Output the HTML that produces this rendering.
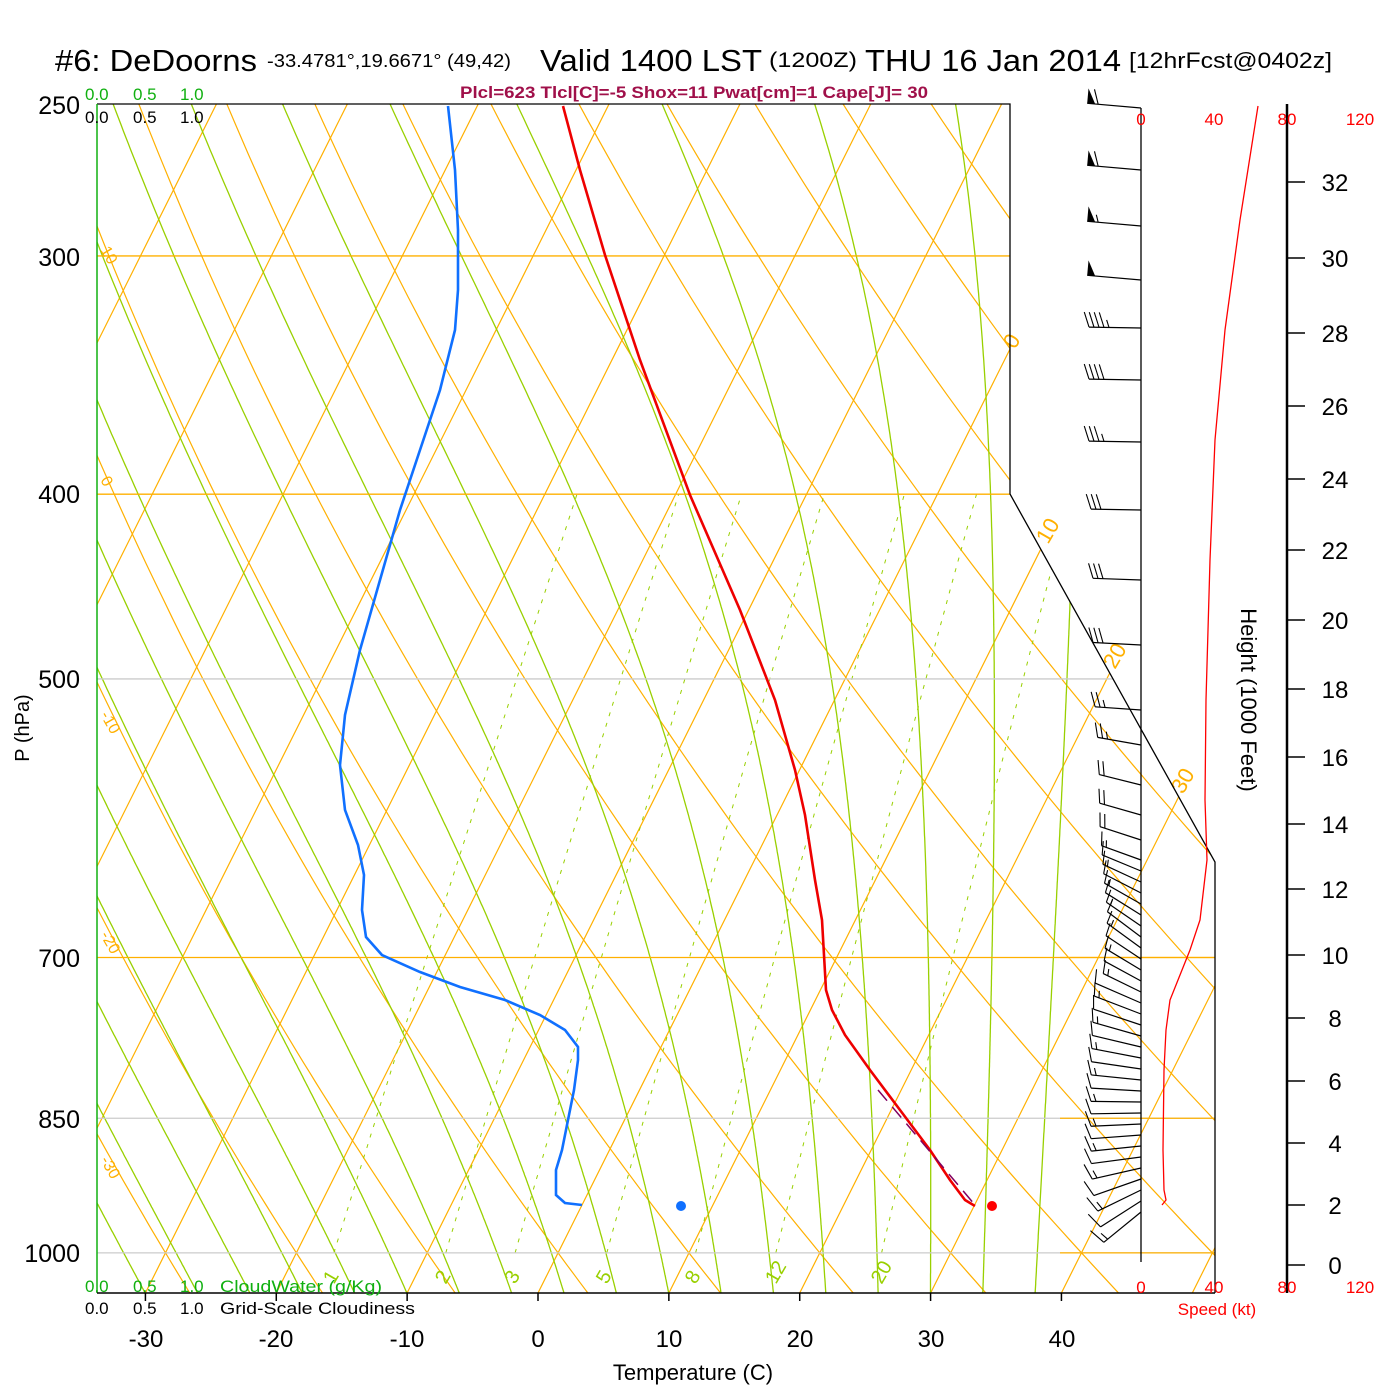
<!DOCTYPE html>
<html><head><meta charset="utf-8"><style>
html,body{margin:0;padding:0;background:#fff}
svg{display:block;font-family:"Liberation Sans",sans-serif}
</style></head><body>
<svg id="s" width="1400" height="1400" viewBox="0 0 1400 1400" xmlns="http://www.w3.org/2000/svg">
<defs><clipPath id="c"><polygon points="97,104 1010,104 1010,494 1215,862 1215,1293 97,1293"/></clipPath></defs>
<g id="grid" clip-path="url(#c)"></g>
<g id="fg"></g>
<text x="55" y="71" font-size="31" textLength="202" lengthAdjust="spacingAndGlyphs">#6: DeDoorns</text>
<text x="267" y="67" font-size="18" textLength="244" lengthAdjust="spacingAndGlyphs">-33.4781°,19.6671° (49,42)</text>
<text x="540" y="71" font-size="31" textLength="222" lengthAdjust="spacingAndGlyphs">Valid 1400 LST</text>
<text x="769" y="67" font-size="21" textLength="88" lengthAdjust="spacingAndGlyphs">(1200Z)</text>
<text x="865" y="71" font-size="31" textLength="256" lengthAdjust="spacingAndGlyphs">THU 16 Jan 2014</text>
<text x="1129" y="68" font-size="22" textLength="203" lengthAdjust="spacingAndGlyphs">[12hrFcst@0402z]</text>
<text x="460" y="98" font-size="17" font-weight="bold" fill="#a0104a" textLength="468" lengthAdjust="spacingAndGlyphs">Plcl=623 Tlcl[C]=-5 Shox=11 Pwat[cm]=1 Cape[J]= 30</text>
<g font-size="17" fill="#10b010"><text x="85" y="100">0.0</text><text x="133" y="100">0.5</text><text x="180" y="100">1.0</text></g>
<g font-size="17" fill="#000"><text x="85" y="123">0.0</text><text x="133" y="123">0.5</text><text x="180" y="123">1.0</text></g>
<g font-size="17" fill="#10b010"><text x="85" y="1292">0.0</text><text x="133" y="1292">0.5</text><text x="180" y="1292">1.0</text><text x="220" y="1292" textLength="162" lengthAdjust="spacingAndGlyphs">CloudWater (g/Kg)</text></g>
<g font-size="17" fill="#000"><text x="85" y="1314">0.0</text><text x="133" y="1314">0.5</text><text x="180" y="1314">1.0</text><text x="220" y="1314" textLength="195" lengthAdjust="spacingAndGlyphs">Grid-Scale Cloudiness</text></g>
<g font-size="25" text-anchor="end">
<text x="80" y="114">250</text><text x="80" y="266">300</text><text x="80" y="503">400</text><text x="80" y="688">500</text><text x="80" y="967">700</text><text x="80" y="1128">850</text><text x="80" y="1262">1000</text>
</g>
<text transform="translate(29,728) rotate(-90)" font-size="20" text-anchor="middle">P (hPa)</text>
<g font-size="24" text-anchor="middle">
<text x="146" y="1347">-30</text><text x="276" y="1347">-20</text><text x="407" y="1347">-10</text><text x="538" y="1347">0</text><text x="669" y="1347">10</text><text x="800" y="1347">20</text><text x="931" y="1347">30</text><text x="1062" y="1347">40</text>
</g>
<text x="693" y="1380" font-size="22" text-anchor="middle">Temperature (C)</text>
<text transform="translate(1241,700) rotate(90)" font-size="22" text-anchor="middle">Height (1000 Feet)</text>
<g font-size="17" fill="#f00" text-anchor="middle">
<text x="1141" y="125">0</text><text x="1214" y="125">40</text><text x="1287" y="125">80</text><text x="1360" y="125">120</text>
<text x="1141" y="1293">0</text><text x="1214" y="1293">40</text><text x="1287" y="1293">80</text><text x="1360" y="1293">120</text>
<text x="1217" y="1315">Speed (kt)</text>
</g>
</svg>
<script>
const NS="http://www.w3.org/2000/svg";
const grid=document.getElementById('grid'),fg=document.getElementById('fg');
function el(p,tag,a){const e=document.createElementNS(NS,tag);for(const k in a)e.setAttribute(k,a[k]);p.appendChild(e);return e;}
const Y=p=>105+828*Math.log(p/250);
const X=(T,p)=>538+13.086*T+0.5*(1293-Y(p));
function poly(p,pts,st){el(p,'polyline',Object.assign({points:pts.map(q=>q[0].toFixed(1)+','+q[1].toFixed(1)).join(' '),fill:'none'},st));}
const OR='#ffb000',GR='#99d000';
const PB=1055,PT=245;
for(let T=-110;T<=50;T+=10){poly(grid,[[X(T,PB),Y(PB)],[X(T,PT),Y(PT)]],{stroke:OR,'stroke-width':1.2});}
for(let th=-40;th<=160;th+=10){const pts=[];for(let p=PB;p>=PT;p-=10){const T=(th+273.15)*Math.pow(p/1000,0.2857)-273.15;pts.push([X(T,p),Y(p)]);}poly(grid,pts,{stroke:OR,'stroke-width':1.2});}
function es(T){return 6.112*Math.exp(17.67*T/(T+243.5));}
function rs(T,p){const e=es(T);return 0.622*e/(p-e);}
function dTdp(T,p){const Tk=T+273.15,r=rs(T,p),L=2.5e6,Rd=287,cp=1004;return (Rd*Tk+L*r)/(p*(cp+L*L*r*0.622/(Rd*Tk*Tk)));}
for(let T0=-30;T0<=38;T0+=4){let T=T0,pts=[];for(let p=1050;p>=PT;p-=2){pts.push([X(T,p),Y(p)]);T-=dTdp(T,p)*2;}poly(grid,pts,{stroke:GR,'stroke-width':1.3});}
const mr=[1,2,3,5,8,12,20];
function tdOf(r,p){const e=r*p/(0.622+r);const l=Math.log(e/6.112);return 243.5*l/(17.67-l);}
mr.forEach(m=>{const r=m/1000;const pts=[];for(let p=1000;p>=400;p-=10){let T=tdOf(r,p);pts.push([X(T,p),Y(p)]);}poly(grid,pts,{stroke:GR,'stroke-width':1,'stroke-dasharray':'4,7'});
 const x=X(tdOf(r,1000),1000);el(fg,'text',{x:x,y:1285,'font-size':20,fill:GR,transform:`rotate(-60 ${x} 1285)`}).textContent=m;});
[[300,OR],[400,OR],[500,'#ccc'],[700,OR],[850,'#ccc'],[1000,'#ccc']].forEach(([p,c])=>el(grid,'line',{x1:97,x2:1215,y1:Y(p),y2:Y(p),stroke:c,'stroke-width':1.3}));
[850,1000,700].forEach(p=>el(fg,'line',{x1:1060,x2:1215,y1:Y(p),y2:Y(p),stroke:OR,'stroke-width':1.3}));
[[10,250],[0,480],[-10,715],[-20,935],[-30,1160]].forEach(([t,y])=>el(fg,'text',{x:100,y:y,'font-size':16,fill:OR,transform:`rotate(60 100 ${y})`}).textContent=t);
[[0,1015,350],[10,1048,545],[20,1115,670],[30,1183,795]].forEach(([t,x,y])=>el(fg,'text',{x:x,y:y,'font-size':22,fill:OR,transform:`rotate(-60 ${x} ${y})`}).textContent=t);
el(fg,'polyline',{points:'97,104 1010,104 1010,494 1215,862 1215,1293',fill:'none',stroke:'#000','stroke-width':1.3});
el(fg,'line',{x1:97,y1:104,x2:97,y2:1293,stroke:'#10b010','stroke-width':1.5});
el(fg,'line',{x1:97,y1:1293,x2:1215,y2:1293,stroke:'#000','stroke-width':1.5});
for(let T=-30;T<=40;T+=10){const x=538+13.086*T;el(fg,'line',{x1:x,x2:x,y1:1293,y2:1301,stroke:'#000','stroke-width':1.5});}
el(fg,'line',{x1:1141,x2:1141,y1:108,y2:1262,stroke:'#000','stroke-width':1.3});
el(fg,'line',{x1:1287,x2:1287,y1:104,y2:1293,stroke:'#000','stroke-width':2.5});
const hy=[1265,1205,1143,1081,1018,955,889,824,757,689,620,550,479,406,333,258,182];
hy.forEach((y,i)=>{el(fg,'line',{x1:1287,x2:1305,y1:y,y2:y,stroke:'#000','stroke-width':1.5});el(fg,'text',{x:1335,y:y+9,'font-size':24,'text-anchor':'middle'}).textContent=i*2;});
poly(fg,[[1258,106],[1240,220],[1225,330],[1215,440],[1210,560],[1206,700],[1205,800],[1207,860],[1200,920],[1190,950],[1178,980],[1170,1000],[1166,1030],[1164,1070],[1163,1150],[1164,1190],[1166,1200],[1162,1205]],{stroke:'#f00','stroke-width':1.3});
function barb(yb,ang,len,full,half,pen){const a=ang*Math.PI/180;const dx=-Math.cos(a),dy=-Math.sin(a);const tx=1141+dx*len,ty=yb+dy*len;
 el(fg,'line',{x1:1141,y1:yb,x2:tx,y2:ty,stroke:'#000','stroke-width':1.2});
 let px=-dy,py=dx; if(py>0){px=-px;py=-py;}
 let pos=0;const L=15;
 if(pen){el(fg,'polygon',{points:`${tx},${ty} ${tx+px*L},${ty+py*L} ${tx-dx*8},${ty-dy*8}`,fill:'#000'});pos=11;}
 for(let i=0;i<full;i++){const bx=tx-dx*pos,by=ty-dy*pos;el(fg,'line',{x1:bx,y1:by,x2:bx+px*L+dx*5,y2:by+py*L,stroke:'#000','stroke-width':1.1});pos+=5;}
 if(half){const bx=tx-dx*pos,by=ty-dy*pos;el(fg,'line',{x1:bx,y1:by,x2:bx+px*L/2+dx*2.5,y2:by+py*L/2,stroke:'#000','stroke-width':1.1});}
}
[[108,5,54,1,0,1],[170,5,54,1,0,1],[226,5,54,0,1,1],[280,5,54,0,0,1],[328,1,52,4,1,0],[380,1,52,4,0,0],[442,1,52,3,1,0],[510,1,50,3,0,0],[580,2,48,3,0,0],[645,3,48,3,0,0],[710,4,46,2,1,0],[745,10,44,2,1,0],[785,14,43,2,0,0],[815,16,43,2,0,0],[840,18,43,2,0,0]].forEach(b=>barb(...b));
for(let y=860;y<=1215;y+=11){let ang;
 if(y<940)ang=20+(y-860)*0.22; else if(y<1100)ang=38-(y-940)*0.23; else if(y<1160)ang=1-(y-1100)*0.15; else ang=-8-(y-1160)*0.6;
 const len=y<1000?42:(y<1180?50:48);barb(y,ang,len,1,y%22<11?1:0,0);}
poly(fg,[[563,106],[580,170],[605,255],[640,360],[690,495],[740,610],[775,700],[795,770],[805,815],[815,880],[822,920],[826,990],[832,1010],[845,1035],[870,1070],[900,1110],[930,1150],[950,1180],[965,1200],[975,1206]],{stroke:'#e00','stroke-width':2.6});
poly(fg,[[448,106],[455,170],[458,230],[458,290],[455,330],[440,390],[420,450],[400,510],[380,580],[360,650],[345,715],[340,765],[345,810],[358,845],[364,875],[362,910],[366,937],[382,955],[420,972],[460,987],[505,1000],[540,1015],[565,1030],[578,1047],[578,1060],[574,1090],[568,1120],[562,1150],[556,1170],[556,1195],[565,1203],[582,1205]],{stroke:'#1070ff','stroke-width':2.6});
el(fg,'line',{x1:878,y1:1090,x2:975,y2:1205,stroke:'#800060','stroke-width':1.5,'stroke-dasharray':'14,8'});
el(fg,'circle',{cx:681,cy:1206,r:5,fill:'#1070ff'});
el(fg,'circle',{cx:992,cy:1206,r:5,fill:'#f00'});
</script>
</body></html>
